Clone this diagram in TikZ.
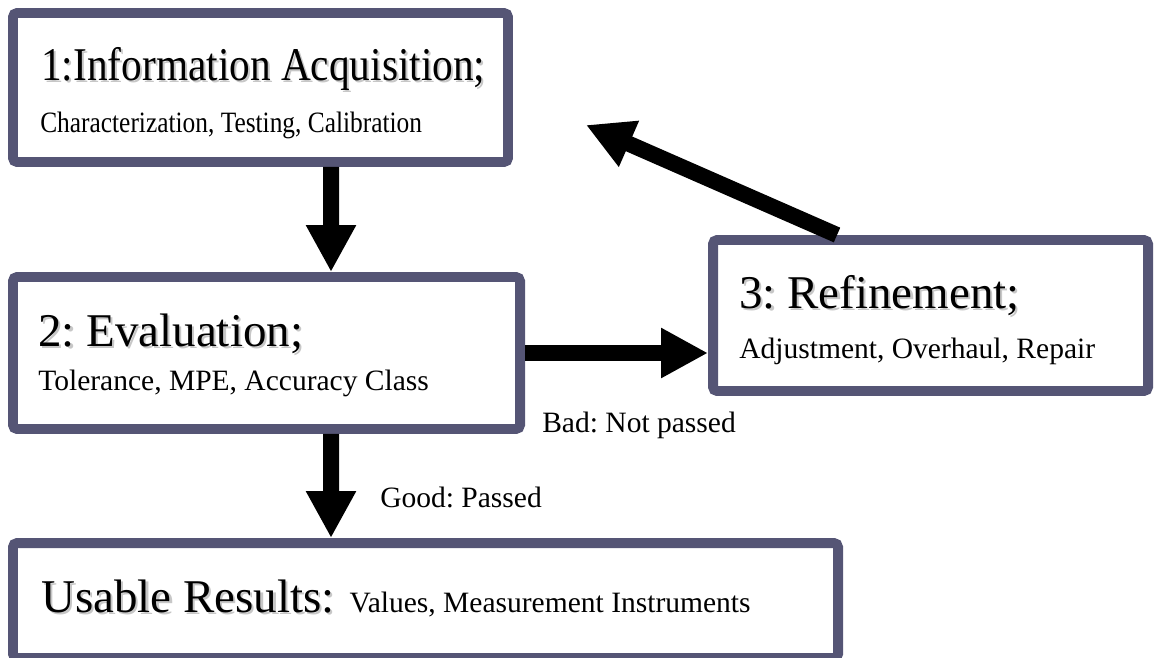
\documentclass[tikz,border=0pt]{standalone}
\usepackage{fontspec}
\setmainfont{Liberation Serif}
\usepackage{graphicx}
\usetikzlibrary{arrows.meta}
\definecolor{frame}{RGB}{85,85,117}
\newcommand\shadetxt[1]{\makebox[0pt][l]{\kern1.6pt\raisebox{-1.6pt}{\textcolor{black!22}{#1}}}#1}
\frenchspacing

\begin{document}
\begin{tikzpicture}[blk/.style={draw=frame, line width=7.1pt, rounded corners=3pt, fill=white},
  ttl/.style={anchor=base west, inner sep=0pt, font=\fontsize{33.4}{40}\selectfont},
  sub/.style={anchor=base west, inner sep=0pt, font=\fontsize{21}{25}\selectfont},
  arr/.style={line width=11.4pt, -{Triangle[length=33.4pt,width=33.4pt]}}]
  \useasboundingbox (0,0) rectangle (28.875,-16.425);
  % boxes
  \node[blk, minimum width=12.375cm, minimum height=3.725cm] (info) at (6.5125,-2.1875) {};
  \node[blk, minimum width=12.675cm, minimum height=3.8cm]   (eval) at (6.6625,-8.825) {};
  \node[blk, minimum width=10.875cm, minimum height=3.775cm] (refi) at (23.2625,-7.8875) {};
  \node[blk, minimum width=20.625cm, minimum height=2.875cm] (usab) at (10.6375,-15.0125) {};
  % texts
  \node[ttl] (infot) at (1.025,-2.0)   {\scalebox{0.88}[1]{\shadetxt{1:Information Acquisition;}}};
  \node[sub] (infos) at (1.0,-3.3)     {\scalebox{0.86}[1]{Characterization, Testing, Calibration}};
  \node[ttl] (evalt) at (0.95,-8.65)   {\shadetxt{2: Evaluation;}};
  \node[sub] (evals) at (0.95,-9.75)   {Tolerance, MPE, Accuracy Class};
  \node[ttl] (refit) at (18.475,-7.7)  {\shadetxt{3: Refinement;}};
  \node[sub] (refis) at (18.475,-8.95) {Adjustment, Overhaul, Repair};
  \node[ttl] (usabt) at (1.025,-15.3)  {\shadetxt{Usable Results:}\hspace{0.375cm}{\fontsize{21}{25}\selectfont Values, Measurement Instruments}};
  \node[sub] (bad)  at (13.55,-10.8)   {Bad: Not passed};
  \node[sub] (good) at (9.5,-12.675)   {Good: Passed};
  % arrows
  \coordinate (back) at (14.65,-3.125);
  \draw[arr] ([xshift=8.075cm]info.south west) -- ([xshift=8.075cm]eval.north west);
  \draw[arr] ([xshift=8.075cm]eval.south west) -- ([xshift=8.075cm]usab.north west);
  \draw[arr] (eval.east) -- (eval.east -| refi.west);
  \draw[arr] ([xshift=3.225cm]refi.north west) -- (back);
\end{tikzpicture}
\end{document}
